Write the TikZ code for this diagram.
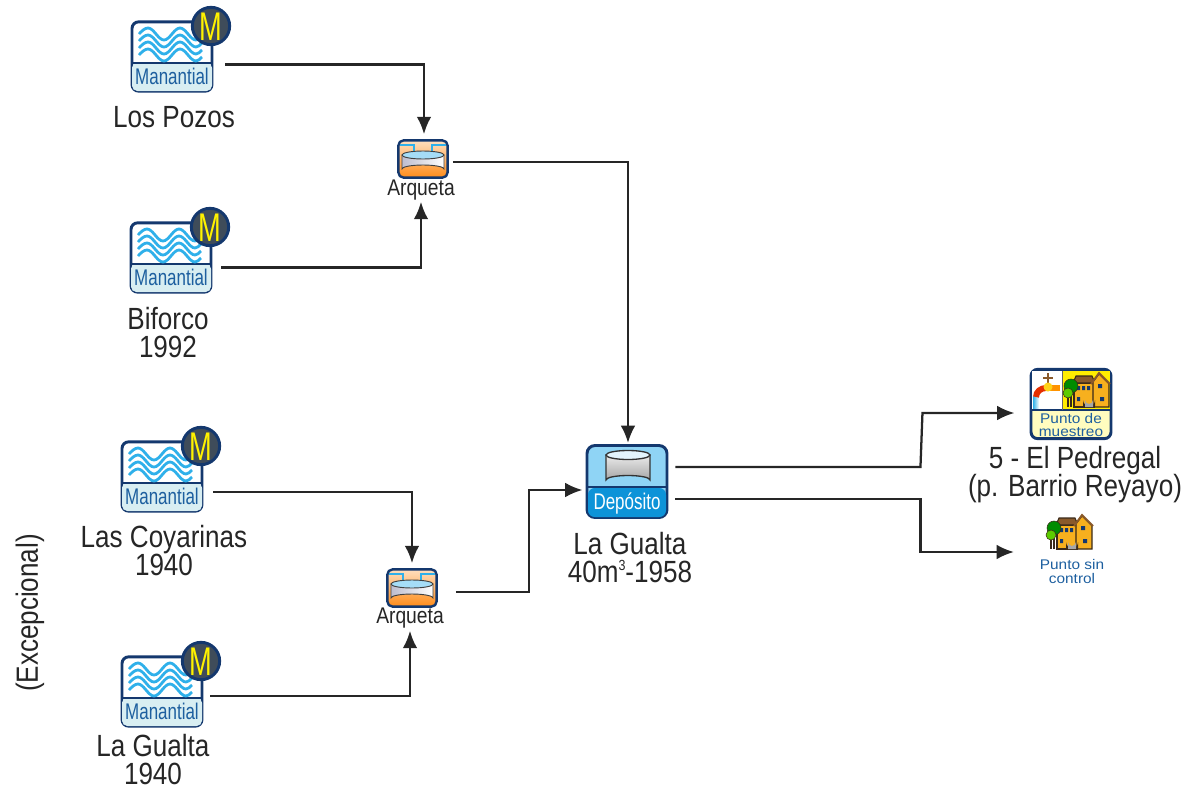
\documentclass[tikz,border=0pt]{standalone}
\usepackage{fontspec}
\setmainfont[FakeStretch=0.85]{Liberation Sans}
\newfontfamily\widefont[FakeStretch=1.1]{Liberation Sans}
\usetikzlibrary{arrows.meta}
\definecolor{navy}{HTML}{14386E}
\definecolor{wave}{HTML}{2FB0EA}
\definecolor{pale}{HTML}{D8EEF2}
\definecolor{inkblue}{HTML}{1D5F9F}
\definecolor{sky}{HTML}{8FD4F5}
\definecolor{deep}{HTML}{0D93D8}
\definecolor{amber}{HTML}{F7B01E}
\definecolor{brownroof}{HTML}{8A5A2B}
\definecolor{slate}{HTML}{3F4C5A}
\definecolor{outline}{HTML}{3A2A1A}

% one small house with its trees, origin at the top left
\newcommand{\casa}[2]{
\begin{scope}[shift={(#1,#2)}]
\fill[outline] (4,18) rectangle (6,34);
\fill[outline] (1,24) rectangle (3,34);
\filldraw[fill=amber, draw=outline, line width=.8pt] (8,10) rectangle (28,34);
\filldraw[fill=brownroof, draw=outline, line width=.8pt] (7,10) -- (10,3) -- (26,3) -- (29,10) -- cycle;
\filldraw[fill=amber, draw=outline, line width=.8pt] (27,34) -- (27,9) -- (33,1) -- (43,11) -- (43,34) -- cycle;
\draw[brownroof, line width=1.4pt] (25,11) -- (33,0) -- (44,11);
\fill[navy] (11,13) rectangle (14,17) (16,13) rectangle (19,17) (21,13) rectangle (24,17);
\fill[navy] (32,11) rectangle (36,15) (34,24) rectangle (38,28) (11,24) rectangle (14,28);
\fill[outline] (17,34) -- (17,27) arc (180:0:6) -- (29,34) -- cycle;
\fill[black!35] (19,34) -- (19,27) arc (180:0:4) -- (27,34) -- cycle;
\filldraw[fill=green!55!black, draw=outline, line width=.4pt] (5,13) circle (7);
\filldraw[fill=green!55!yellow!80!black, draw=outline, line width=.4pt] (2,20) circle (5);
\end{scope}
}

\begin{document}
\begin{tikzpicture}[
    x=.75pt, y=-.75pt,
    spring/.style={draw=navy, line width=2.2pt, rounded corners=5pt, fill=white, minimum width=60pt, minimum height=52pt, inner sep=0pt},
    metered/.style={draw=navy, line width=2.2pt, circle, fill=slate, text=yellow, minimum size=28pt, inner sep=0pt},
    waterline/.style={wave, line width=2.1pt},
    chamber/.style={draw=navy, line width=1.8pt, rounded corners=4pt, minimum width=37pt, minimum height=28pt, inner sep=0pt},
    tank/.style={draw=navy, line width=2.2pt, rounded corners=6pt, fill=sky, minimum width=60pt, minimum height=54pt, inner sep=0pt},
    sample/.style={draw=navy, line width=2.2pt, rounded corners=5pt, fill=yellow!25, minimum width=60pt, minimum height=52pt, inner sep=0pt},
    place/.style={align=center, text=black!85, inner sep=0pt, font=\fontsize{23}{21}\selectfont},
    tall/.style={xscale=.88, font=\fontsize{17}{17}\selectfont},
    flow/.style={draw=black!85, line width=1.7pt, -{Latex[length=13pt,width=11pt]}}
    ]
\useasboundingbox (0,0) rectangle (1182,789);

% springs
\foreach \n/\x/\y in {pozos/172/56.5, biforco/171/257.5, coyarinas/162/476.5, gualta/162/691.5}{
    \node[spring] (\n) at (\x,\y) {};
    \begin{scope}[shift={(\x,\y)}]
    \fill[pale, rounded corners=4pt] (-40,6) rectangle (40,34.5);
    \draw[navy, line width=1.8pt] (-41,6.5) -- (41,6.5);
    \foreach \d in {-22.5,-15.5,-8.5,-1.5}
        \draw[waterline] (-33,\d) sin (-24,\d-6) cos (-16,\d) sin (-8,\d+6) cos (0,\d) sin (8,\d-6) cos (16,\d) sin (24,\d+6) cos (30,\d+2);
    \node[tall, text=inkblue] (\n-tag) at (0,20) {Manantial};
    \node[metered] (\n-m) at (39,-30.5) {};
    \node[text=yellow, xscale=.8, font=\fontsize{30}{30}\selectfont] (\n-mark) at (39,-30) {M};
    \end{scope}
}
\node[place] (pozos-name) at (174,117) {Los Pozos};
\node[place] (biforco-name) at (168,333) {Biforco\\1992};
\node[place] (coyarinas-name) at (164,551) {Las Coyarinas\\1940};
\node[place] (gualta-name) at (153,760) {La Gualta\\1940};
\node[place, rotate=90] (exc) at (30,613) {(Excepcional)};

% chambers
\foreach \n/\x/\y in {arq1/423/159, arq2/412/588}{
    \node[chamber, top color=orange!25, bottom color=orange!90] (\n) at (\x,\y) {};
    \begin{scope}[shift={(\x,\y)}]
    \draw[wave, line width=2pt] (-23,-14) -- (-9,-14) -- (-9,-6) (23,-14) -- (9,-14) -- (9,-6);
    \draw[black!75, line width=.7pt, left color=blue!15!gray!45, right color=white] (-21,-4) -- (-21,10) arc (180:360:21 and 4) -- (21,-4) -- cycle;
    \draw[black!75, line width=.7pt, fill=sky!80] (0,-4) ellipse (21 and 4);
    \end{scope}
}
\node[text=black!85, font=\fontsize{17}{17}\selectfont] (arq1-name) at (421,190) {Arqueta};
\node[text=black!85, font=\fontsize{17}{17}\selectfont] (arq2-name) at (410,618) {Arqueta};

% deposit
\node[tank] (dep) at (627,481.5) {};
\fill[deep, rounded corners=5pt] (588,488) rectangle (666,517);
\draw[navy, line width=1.8pt] (587,487) -- (667,487);
\draw[black!80, line width=1pt, top color=black!8, bottom color=black!35] (606,455) -- (606,480) arc (180:360:22 and 4.5) -- (650,455) -- cycle;
\draw[black!80, line width=1pt, fill=sky!25] (628,455) ellipse (22 and 4.5);
\node[tall, text=white] (dep-tag) at (627,503) {Depósito};
\node[place] (dep-name) at (630,557.5) {La Gualta\\40m\raisebox{9pt}{\fontsize{11}{11}\selectfont 3}-1958};

% sampling point
\node[sample] (punto) at (1071,404) {};
\fill[white] (1032,371) rectangle (1062,409);
\fill[yellow!95!orange] (1063,371) rectangle (1110,409);
\draw[navy, line width=1.2pt] (1031,410) -- (1111,410);
\draw[black!60, line width=.8pt] (1062.5,371) -- (1062.5,410);
\casa{1066}{373}
\fill[left color=wave, right color=white] (1033,396) rectangle (1039,408);
\draw[orange!40!red!90!black, line width=4.5pt] (1036,397) to[out=90,in=180] (1046,388);
\draw[orange!85!yellow, line width=4.5pt] (1046,388) -- (1060,388);
\draw[brownroof, line width=1.6pt] (1048,384) -- (1048,373) (1043,378) -- (1053,378);
\fill[orange!40!yellow!90!white] (1048,387) circle (4.5);
\node[align=center, inner sep=0pt, text=inkblue, font=\widefont\fontsize{10.5}{9.8}\selectfont] (punto-tag) at (1071,425) {Punto de\\muestreo};
\node[place] (punto-name) at (1075,474.5) {5 - El Pedregal\\[-1.5pt](p. Barrio Reyayo)};

% point without control
\casa{1049}{515}
\coordinate (casa) at (1071,552);
\node[align=center, inner sep=0pt, text=inkblue, font=\widefont\fontsize{10.5}{9.8}\selectfont] (casa-tag) at (1072,571.5) {Punto sin\\control};

% pipes
\draw[flow] ([shift={(12,8)}]pozos.east) -| ([shift={(1,-5)}]arq1.north);
\draw[flow] ([shift={(9,10)}]biforco.east) -| ([shift={(0,-3)}]arq1-name.south);
\draw[flow] ([shift={(4,3)}]arq1.east) -| ([shift={(1,-1)}]dep.north);
\draw[flow] ([shift={(10,15.5)}]coyarinas.east) -| ([shift={(0,-5)}]arq2.north);
\draw[flow] ([shift={(7,4.5)}]gualta.east) -| ([shift={(0,-2)}]arq2-name.south);
\draw[flow] ([shift={(18,4)}]arq2.east) -- ++(73,0) |- ([shift={(-3,8.5)}]dep.west);
\draw[flow] ([shift={(7,-14.5)}]dep.east) -- ++(245,0) -- ++(2,-54) -- ([shift={(-15,9)}]punto.west);
\draw[flow] ([shift={(7,17.5)}]dep.east) -- ++(245,0) |- ([shift={(-57,0)}]casa);
\end{tikzpicture}
\end{document}
